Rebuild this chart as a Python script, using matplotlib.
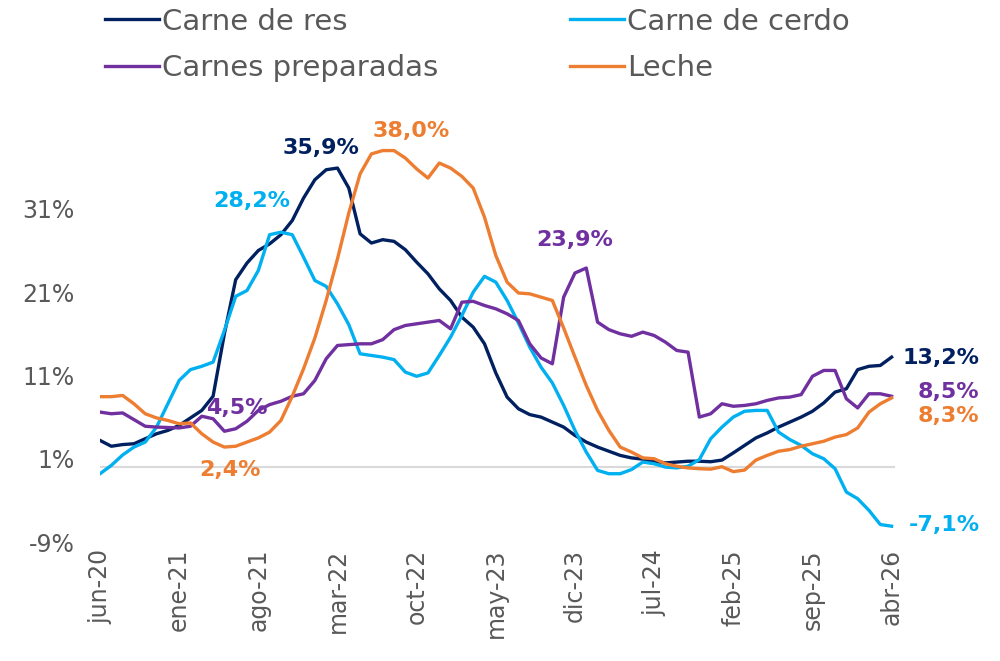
import matplotlib
matplotlib.use("Agg")
import matplotlib.pyplot as plt

# ---- data ----
months = list(range(71))  # jun-20 ... abr-26

carne_res = [3.2, 2.5, 2.7, 2.8, 3.4, 4.0, 4.4, 5.0, 5.9, 6.8, 8.5,
             16.0, 22.5, 24.5, 26.0, 26.8, 27.9, 29.6, 32.3, 34.5, 35.7, 35.9,
             33.5, 28.0, 26.9, 27.3, 27.1, 26.1, 24.6, 23.2, 21.4, 20.0, 18.0,
             16.8, 14.8, 11.3, 8.4, 7.0, 6.3, 6.0, 5.4, 4.8, 3.8, 3.0,
             2.4, 1.9, 1.4, 1.1, 0.95, 0.7, 0.5, 0.6, 0.7, 0.7, 0.64,
             0.84, 1.7, 2.6, 3.5, 4.1, 4.8, 5.4, 6.0, 6.7, 7.7, 9.0,
             9.4, 11.7, 12.1, 12.2, 13.2]

carne_cerdo = [-0.8, 0.2, 1.45, 2.4, 3.0, 4.8, 7.6, 10.4, 11.7, 12.1, 12.6,
               16.4, 20.5, 21.2, 23.6, 27.9, 28.2, 27.9, 25.2, 22.4, 21.7, 19.6,
               17.1, 13.6, 13.4, 13.2, 12.9, 11.4, 10.9, 11.3, 13.4, 15.6, 18.2,
               21.0, 22.9, 22.2, 20.0, 17.3, 14.4, 12.0, 10.1, 7.4, 4.4, 1.8,
               -0.4, -0.8, -0.8, -0.3, 0.6, 0.4, 0.0, -0.1, 0.1, 0.9, 3.4,
               4.8, 6.0, 6.7, 6.8, 6.8, 4.2, 3.3, 2.6, 1.6, 1.0, -0.2,
               -3.0, -3.8, -5.2, -6.9, -7.1]

carnes_prep = [6.6, 6.4, 6.5, 5.7, 4.9, 4.8, 4.75, 4.7, 4.9, 6.1, 5.8,
               4.3, 4.6, 5.5, 6.8, 7.5, 7.9, 8.5, 8.8, 10.4, 13.0, 14.6,
               14.7, 14.8, 14.8, 15.3, 16.5, 17.0, 17.2, 17.4, 17.6, 16.6, 19.8,
               19.9, 19.4, 19.0, 18.4, 17.6, 14.8, 13.1, 12.4, 20.4, 23.3, 23.9,
               17.4, 16.5, 16.0, 15.7, 16.2, 15.8, 15.0, 14.0, 13.8, 6.0, 6.4,
               7.6, 7.3, 7.4, 7.6, 8.0, 8.3, 8.4, 8.7, 10.9, 11.6, 11.6,
               8.2, 7.1, 8.8, 8.8, 8.5]

leche = [8.45, 8.45, 8.6, 7.6, 6.4, 5.9, 5.6, 5.2, 5.3, 4.0, 3.0,
         2.4, 2.5, 3.0, 3.5, 4.2, 5.6, 8.5, 11.8, 15.5, 20.0, 25.0,
         30.5, 35.2, 37.6, 38.0, 38.0, 37.1, 35.8, 34.7, 36.5, 35.9, 34.9,
         33.5, 30.0, 25.4, 22.2, 20.9, 20.8, 20.4, 20.0, 16.7, 13.2, 9.8,
         6.8, 4.4, 2.4, 1.8, 1.1, 1.0, 0.4, 0.1, -0.1, -0.2, -0.25,
         0.04, -0.55, -0.36, 0.84, 1.4, 1.9, 2.1, 2.5, 2.8, 3.1, 3.6,
         3.9, 4.7, 6.6, 7.6, 8.3]

series_names = ["Carne de res", "Carne de cerdo", "Carnes preparadas", "Leche"]
xtick_pos = [0, 7, 14, 21, 28, 35, 42, 49, 56, 63, 70]
xtick_labels = ["jun-20", "ene-21", "ago-21", "mar-22", "oct-22", "may-23",
                "dic-23", "jul-24", "feb-25", "sep-25", "abr-26"]
ytick_pos = [-9, 1, 11, 21, 31]
ytick_labels = ["-9%", "1%", "11%", "21%", "31%"]

# ---- styling ----
C_RES = "#002060"
C_CERDO = "#00B0F0"
C_PREP = "#7030A0"
C_LECHE = "#ED7D31"
GRAY = "#595959"

plt.rcParams['font.family'] = ['DejaVu Sans']

fig = plt.figure(figsize=(10, 6.61), dpi=100)
ax = fig.add_axes([0.1, 0.18, 0.795, 0.63])

lw = 2.4
ax.axhline(0, color="#D9D9D9", lw=1.5, zorder=1)
l1, = ax.plot(months, carne_res, color=C_RES, lw=lw, label=series_names[0], zorder=3)
l2, = ax.plot(months, carne_cerdo, color=C_CERDO, lw=lw, label=series_names[1], zorder=3)
l3, = ax.plot(months, carnes_prep, color=C_PREP, lw=lw, label=series_names[2], zorder=3)
l4, = ax.plot(months, leche, color=C_LECHE, lw=lw, label=series_names[3], zorder=3)

ax.set_xlim(0, 70.3)
ax.set_ylim(-9, 41)
ax.set_yticks(ytick_pos)
ax.set_yticklabels(ytick_labels)
ax.set_xticks(xtick_pos)
ax.set_xticklabels(xtick_labels, rotation=90)
ax.tick_params(axis='both', length=0, labelsize=17, labelcolor=GRAY)
ax.tick_params(axis='y', pad=18)
ax.tick_params(axis='x', pad=5)
for s in ax.spines.values():
    s.set_visible(False)

# ---- annotations ----
def lab(series, idx, text, color, dx_px, dy_px, ha='center'):
    ax.annotate(text, xy=(idx, series[idx]), xytext=(dx_px * 0.72, dy_px * 0.72),
                textcoords='offset points', ha=ha, va='center', color=color,
                fontsize=16, fontweight='bold', zorder=5)

lab(carne_res, 21, "35,9%", C_RES, -16, 20)
lab(leche, 25, "38,0%", C_LECHE, 28, 20)
lab(carne_cerdo, 16, "28,2%", C_CERDO, -29, 31)
lab(carnes_prep, 43, "23,9%", C_PREP, -12, 28)
lab(carnes_prep, 11, "4,5%", C_PREP, 12, 23)
lab(leche, 11, "2,4%", C_LECHE, 6, -23)
lab(carne_res, 70, "13,2%", C_RES, 88, -1, ha='right')
lab(carnes_prep, 70, "8,5%", C_PREP, 88, 4, ha='right')
lab(leche, 70, "8,3%", C_LECHE, 88, -18, ha='right')
lab(carne_cerdo, 70, "-7,1%", C_CERDO, 88, 1, ha='right')

# legend: row 1 = res, cerdo ; row 2 = preparadas, leche (column-major fill)
leg = fig.legend(handles=[l1, l3, l2, l4], ncol=2, loc='upper left',
                 bbox_to_anchor=(0.093, 1.006), frameon=False, fontsize=21,
                 handlelength=1.85, handletextpad=0.12, columnspacing=4.5,
                 labelspacing=0.62, borderaxespad=0)
for t in leg.get_texts():
    t.set_color(GRAY)

fig.savefig("out.png", dpi=100)
